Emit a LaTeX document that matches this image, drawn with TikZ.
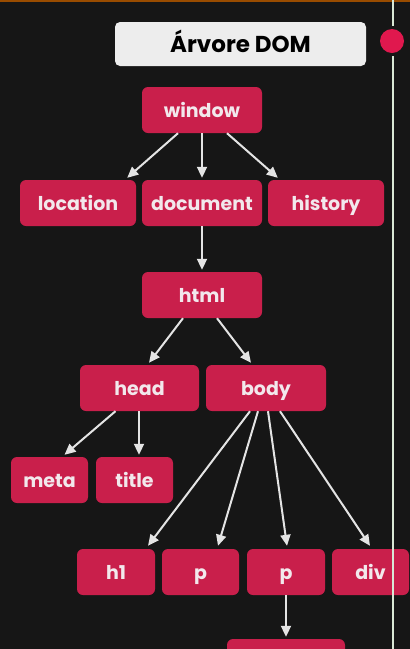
\documentclass[tikz,border=0pt]{standalone}
\usepackage{fontspec}
\setmainfont{Poppins}
\usetikzlibrary{arrows.meta}
\definecolor{bg}{HTML}{161616}
\definecolor{boxred}{HTML}{C91F4B}
\definecolor{boxtext}{HTML}{F2E8EC}
\definecolor{arrowgray}{HTML}{E4E4E4}
\definecolor{titlebg}{HTML}{EDEDED}
\definecolor{dotred}{HTML}{E0184E}
\definecolor{railgreen}{HTML}{D9E8D6}
\tikzset{
  domnode/.style={rectangle, rounded corners=6pt, fill=boxred, text=boxtext,
    font=\fontsize{19}{22}\selectfont\bfseries, minimum height=46pt, inner sep=0pt,
    text height=14pt, text depth=0pt},
  link/.style={draw=arrowgray, line width=2pt, -{Triangle[length=11pt,width=10pt]}},
}
\begin{document}
\begin{tikzpicture}[x=1pt,y=-1pt]
  % canvas
  \fill[bg] (0,0) rectangle (410,649);
  \useasboundingbox (0,0) rectangle (410,649);
  \clip (0,0) rectangle (410,649);
  \fill[orange!60!black] (0,0) rectangle (410,1.5);

  % heading
  \node[rectangle, rounded corners=5pt, fill=titlebg, minimum width=251pt, minimum height=44pt,
    inner sep=0pt, text height=17pt, text depth=0pt,
    font=\fontsize{23}{26}\selectfont\bfseries, text=black] (heading) at (240.5,44) {Árvore DOM};

  % tree nodes
  \node[domnode, minimum width=120pt] (window)   at (202,110) {window};
  \node[domnode, minimum width=116pt] (location) at (78,203)  {location};
  \node[domnode, minimum width=120pt] (document) at (202,203) {document};
  \node[domnode, minimum width=116pt] (history)  at (326,203) {history};
  \node[domnode, minimum width=120pt] (html)     at (202,295) {html};
  \node[domnode, minimum width=119pt] (head)     at (139.5,388) {head};
  \node[domnode, minimum width=120pt] (body)     at (266,388) {body};
  \node[domnode, minimum width=77pt]  (meta)     at (49.5,480) {meta};
  \node[domnode, minimum width=77pt]  (title)    at (134.5,480) {title};
  \node[domnode, minimum width=78pt]  (h1)       at (116,572) {h1};
  \node[domnode, minimum width=77pt]  (pa)       at (200.5,572) {p};
  \node[domnode, minimum width=78pt]  (pb)       at (286,572) {p};
  \node[domnode, minimum width=77pt]  (div)      at (370.5,572) {div};
  \node[domnode, minimum width=118pt] (child)    at (286,662) {};

  % connectors
  \draw[link] ([xshift=-24pt]window.south) -- ([xshift=-9pt,yshift=2pt]location.north east);
  \draw[link] (window.south) -- ([yshift=2pt]document.north);
  \draw[link] ([xshift=25pt]window.south) -- ([xshift=10pt,yshift=2pt]history.north west);
  \draw[link] (document.south) -- ([yshift=2pt]html.north);
  \draw[link] ([xshift=-19pt]html.south) -- ([xshift=9.5pt,yshift=2pt]head.north);
  \draw[link] ([xshift=15pt]html.south) -- ([xshift=-15pt,yshift=2pt]body.north);
  \draw[link] ([xshift=-24pt]head.south) -- ([xshift=15pt,yshift=2pt]meta.north);
  \draw[link] ([xshift=-0.5pt]head.south) -- ([xshift=4.5pt,yshift=2pt]title.north);
  \draw[link] ([xshift=-16pt]body.south) -- ([xshift=32pt,yshift=3pt]h1.north);
  \draw[link] ([xshift=-8pt]body.south) -- ([xshift=17.5pt,yshift=3pt]pa.north);
  \draw[link] ([xshift=2pt]body.south) -- ([xshift=1pt,yshift=3pt]pb.north);
  \draw[link] ([xshift=14pt]body.south) -- ([xshift=-0.5pt,yshift=3pt]div.north);
  \draw[link] (pb.south) -- ([yshift=2pt]child.north);

  % side rail with marker
  \draw[railgreen, line width=2pt] (393,0) -- (393,649);
  \fill[bg] (392,41) circle (15pt);
  \fill[dotred] (392,41) circle (12pt);
\end{tikzpicture}
\end{document}
